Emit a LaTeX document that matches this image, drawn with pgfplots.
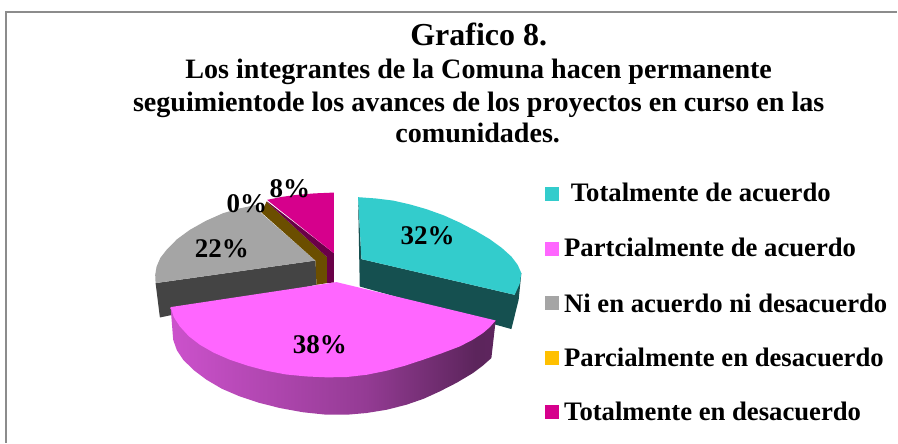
\documentclass[border=0pt]{standalone}
\usepackage{fontspec}
\setmainfont{Liberation Serif}
\usepackage{pgfplots}
\pgfplotsset{compat=1.18}
\definecolor{tealTop}{HTML}{33CCCC}
\definecolor{tealSide}{HTML}{155050}
\definecolor{magTop}{HTML}{FF66FF}
\definecolor{grayTop}{HTML}{A5A5A5}
\definecolor{graySide}{HTML}{444444}
\definecolor{amberKey}{HTML}{FFC000}
\definecolor{brownSide}{HTML}{6B4E00}
\definecolor{pinkTop}{HTML}{D6008C}
\definecolor{pinkSide}{HTML}{6A0048}
\definecolor{frameLine}{HTML}{8C8C8C}
\pgfdeclarehorizontalshading{magSide}{100bp}{
  color(0bp)=(magTop!80!black); color(25bp)=(magTop!80!black);
  color(55bp)=(magTop!58!black); color(72bp)=(magTop!36!black);
  color(100bp)=(magTop!42!black)}
\tikzset{
  ttl/.style={anchor=base, font=\fontsize{28.1}{28.1}\selectfont\bfseries},
  key/.style={anchor=base west, font=\fontsize{26.7}{26.7}\selectfont\bfseries},
  pct/.style={anchor=base, font=\fontsize{27}{27}\selectfont\bfseries},
}
\begin{document}
\begin{tikzpicture}
\begin{axis}[
  scale only axis, width=898pt, height=443pt,
  xmin=0, xmax=898, ymin=0, ymax=443, y dir=reverse,
  hide axis, clip=false,
  every axis plot/.append style={draw=none},
]
% page background, keeps the full canvas
\addplot[fill=white] coordinates {(0,0)(898,0)(898,443)(0,443)} -- cycle;
% frame
\addplot[draw=frameLine, line width=1.2pt] coordinates {(6,443)(6,12)(898,12)};

% teal slice
\addplot[fill=tealSide] coordinates {(358.3,197.3)(361.7,259.3)(515,295)(521.7,273.3)(519,300)(511.7,329.3)(360,286.7)} -- cycle;
\addplot[fill=tealTop] coordinates {(361.7,259.3)(358.3,197.3)(376,198.6)(393.3,200.7)(410,204.5)(426.7,209.3)(444,215.5)(460,222.7)(476,231)(490,239.3)(502,248)(511.7,256.7)(518,265)(521.7,273.3)(520,284)(515,295)} -- cycle;

% gray slice
\addplot[fill=graySide] coordinates {(155.7,283.3)(315.7,260.7)(316.7,285)(160,317.7)} -- cycle;
\addplot[fill=grayTop] coordinates {(315.7,260.7)(260.7,212.7)(256.7,205)(240,208.5)(223.3,213.3)(206,221)(190,230)(177,239.5)(166.7,250)(160.5,258)(156.7,266.7)(155.3,275)(155.7,283.3)} -- cycle;

% 0% and 8% slices
\addplot[fill=brownSide] coordinates {(261.7,212.7)(266.7,201.7)(327.3,257.3)(327.3,283.3)(316.7,285)(315.7,260.7)} -- cycle;
\addplot[fill=pinkSide] coordinates {(267.3,201.7)(334,253.3)(334,282.7)(327.3,283.3)(327.3,257.3)(266.7,201.7)} -- cycle;
\addplot[fill=pinkTop] coordinates {(267.3,200)(282,197)(296.7,195)(315,193.5)(334,192.7)(334,253.3)} -- cycle;

% magenta slice
\addplot[shading=magSide] coordinates {(170.7,307.3)(173.3,340)(177,350.5)(183.3,360)(194,370.5)(206.7,380)(222,389)(240,396.7)(259,403)(280,408.3)(303,412.5)(326.7,415)(347,415)(366.7,413.3)(387,410)(406.7,405)(424,399)(440,391.7)(457,383)(473.3,373.3)(483,366)(491.7,358.3)(496,320.7)} -- cycle;
\addplot[fill=magTop] coordinates {(336.7,282.3)(170.7,307.3)(174,317.5)(180,326.7)(189,336.5)(200,345)(214,353)(230,360)(248,366)(266.7,371)(286,374.7)(306.7,376.7)(327,377.6)(346.7,377.3)(367,375)(386.7,371)(405,366)(423.3,360)(442,353.5)(460,346.7)(473,340)(483.3,333.3)(490,327.5)(496,320.7)} -- cycle;

% legend keys
\addplot[fill=tealTop] coordinates {(545,187)(559,187)(559,201)(545,201)} -- cycle;
\addplot[fill=magTop] coordinates {(545,242)(559,242)(559,256)(545,256)} -- cycle;
\addplot[fill=grayTop] coordinates {(545,296)(559,296)(559,310)(545,310)} -- cycle;
\addplot[fill=amberKey] coordinates {(545,351)(559,351)(559,365)(545,365)} -- cycle;
\addplot[fill=pinkTop] coordinates {(545,405)(559,405)(559,419)(545,419)} -- cycle;

\node[ttl, font=\fontsize{32}{32}\selectfont\bfseries] at (axis cs:479,45.7) {Grafico 8.};
\node[ttl] at (axis cs:479,79) {Los integrantes de la Comuna hacen permanente};
\node[ttl] at (axis cs:479,112) {seguimientode los avances de los proyectos en curso en las};
\node[ttl] at (axis cs:478,143) {comunidades.};

\node[pct] at (axis cs:428,245) {32\%};
\node[pct] at (axis cs:320,354) {38\%};
\node[pct] at (axis cs:222,257.3) {22\%};
\node[pct] at (axis cs:247,212.7) {0\%};
\node[pct] at (axis cs:290,197.3) {8\%};

\node[key,inner sep=0pt] at (axis cs:571,201.7) {Totalmente de acuerdo};
\node[key,inner sep=0pt] at (axis cs:564.3,257) {Partcialmente de acuerdo};
\node[key,inner sep=0pt] at (axis cs:564.3,312.3) {Ni en acuerdo ni desacuerdo};
\node[key,inner sep=0pt] at (axis cs:564.3,366.7) {Parcialmente en desacuerdo};
\node[key,inner sep=0pt] at (axis cs:564.3,420.7) {Totalmente en desacuerdo};
\end{axis}
\end{tikzpicture}
\end{document}
